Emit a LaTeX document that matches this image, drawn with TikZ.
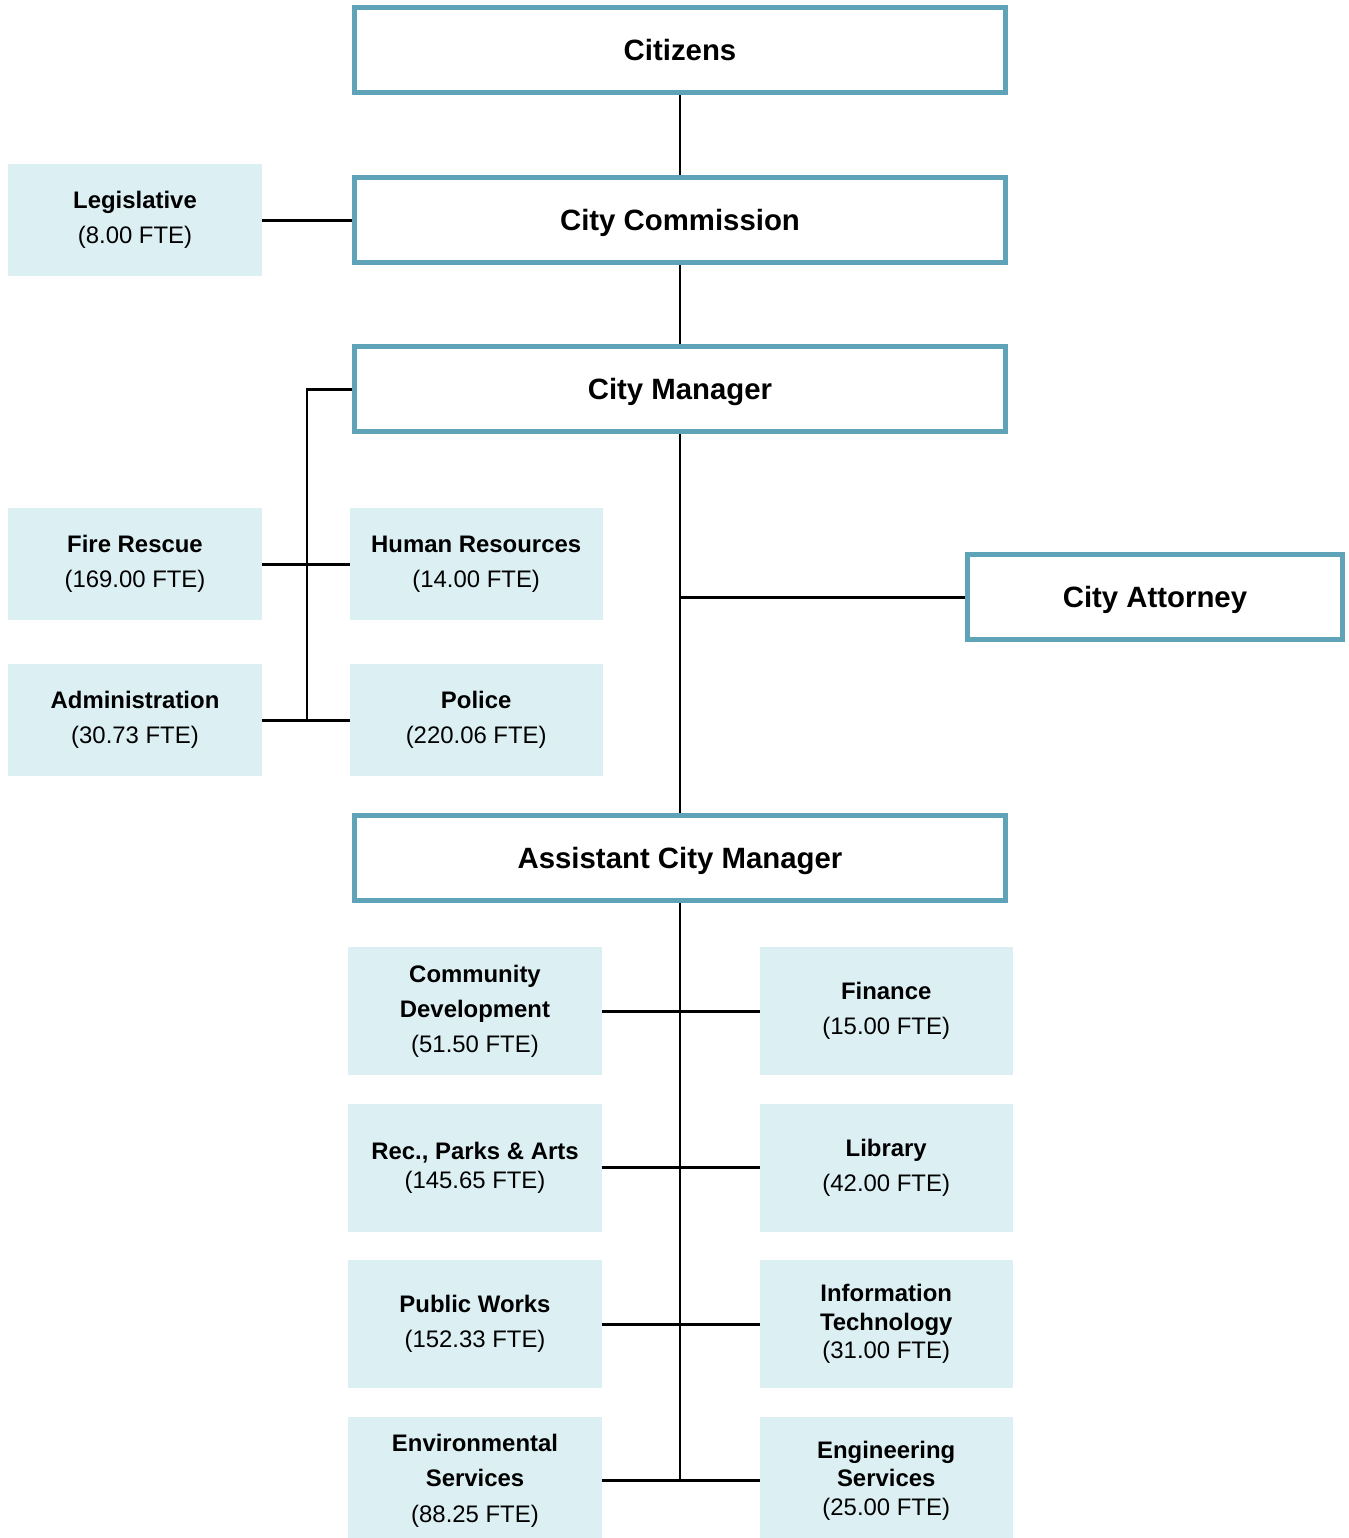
\documentclass[tikz,border=0pt]{standalone}
\usepackage{fontspec}
\setmainfont{Liberation Sans}
\usetikzlibrary{positioning}
\definecolor{frame}{HTML}{5FA3B8}
\definecolor{palebg}{HTML}{DCF0F4}

\begin{document}
\begin{tikzpicture}[x=0.01cm, y=-0.01cm, node distance=0.285cm]
  \tikzstyle{head}=[rectangle, draw=frame, line width=1.42pt, fill=white,
                    minimum width=6.5cm, minimum height=0.85cm, inner sep=0pt,
                    text depth=0pt, font=\fontsize{8.35}{10}\selectfont\bfseries]
  \tikzstyle{dept}=[rectangle, fill=palebg, minimum width=2.53cm,
                    minimum height=1.12cm, inner sep=0pt, outer sep=0pt,
                    align=center, font=\fontsize{6.8}{10}\selectfont]
  \tikzstyle{tall}=[dept, minimum height=1.28cm]
  \tikzstyle{tight}=[tall, font=\fontsize{6.8}{8.1}\selectfont]
  \tikzstyle{conn}=[draw=black, line width=0.85pt]
  \useasboundingbox (0,0) rectangle (1349,1538);

  % top of the chart
  \node[head](cit) at (680,50){Citizens};
  \node[head](com) at (680,220){City Commission};
  \node[head](mgr) at (680,389){City Manager};
  \node[head](acm) at (680,858){Assistant City Manager};
  \node[head, minimum width=3.75cm, minimum height=0.84cm](att) at (1155,597){City Attorney};
  \node[dept](leg) at (135,220){\textbf{Legislative}\\(8.00 FTE)};

  % reporting to the City Manager
  \node[dept](fire) at (135,564){\textbf{Fire Rescue}\\(169.00 FTE)};
  \node[dept, right=0.88cm of fire](hr){\textbf{Human Resources}\\(14.00 FTE)};
  \node[dept, below=0.44cm of fire](adm){\textbf{Administration}\\(30.73 FTE)};
  \node[dept, below=0.44cm of hr](pol){\textbf{Police}\\(220.06 FTE)};

  % reporting to the Assistant City Manager
  \node[tall](cd) at (475,1011){\textbf{Community}\\\textbf{Development}\\(51.50 FTE)};
  \node[tall, right=1.58cm of cd](fin){\textbf{Finance}\\(15.00 FTE)};
  \node[tight, below=of cd](rec){\textbf{Rec., Parks \& Arts}\\(145.65 FTE)};
  \node[tall, below=of fin](lib){\textbf{Library}\\(42.00 FTE)};
  \node[tall, below=of rec](pw){\textbf{Public Works}\\(152.33 FTE)};
  \node[tight, below=of lib](it){\textbf{Information}\\\textbf{Technology}\\(31.00 FTE)};
  \node[tall, below=of pw](env){\textbf{Environmental}\\\textbf{Services}\\(88.25 FTE)};
  \node[tight, below=of it](eng){\textbf{Engineering}\\\textbf{Services}\\(25.00 FTE)};

  \coordinate(spine) at (307,389);
  \coordinate(trunk) at (acm.south |- env.east);

  \draw[conn](cit)--(com);
  \draw[conn](com)--(mgr);
  \draw[conn](mgr)--(acm);
  \draw[conn](leg)--(com);
  \draw[conn](att)--(att -| mgr);
  \draw[conn](mgr.west)--(spine)--(spine |- adm.east);
  \draw[conn](fire)--(hr);
  \draw[conn](adm)--(pol);
  \draw[conn](acm)--(trunk);
  \draw[conn](cd)--(fin);
  \draw[conn](rec)--(lib);
  \draw[conn](pw)--(it);
  \draw[conn](env)--(eng);
\end{tikzpicture}
\end{document}
